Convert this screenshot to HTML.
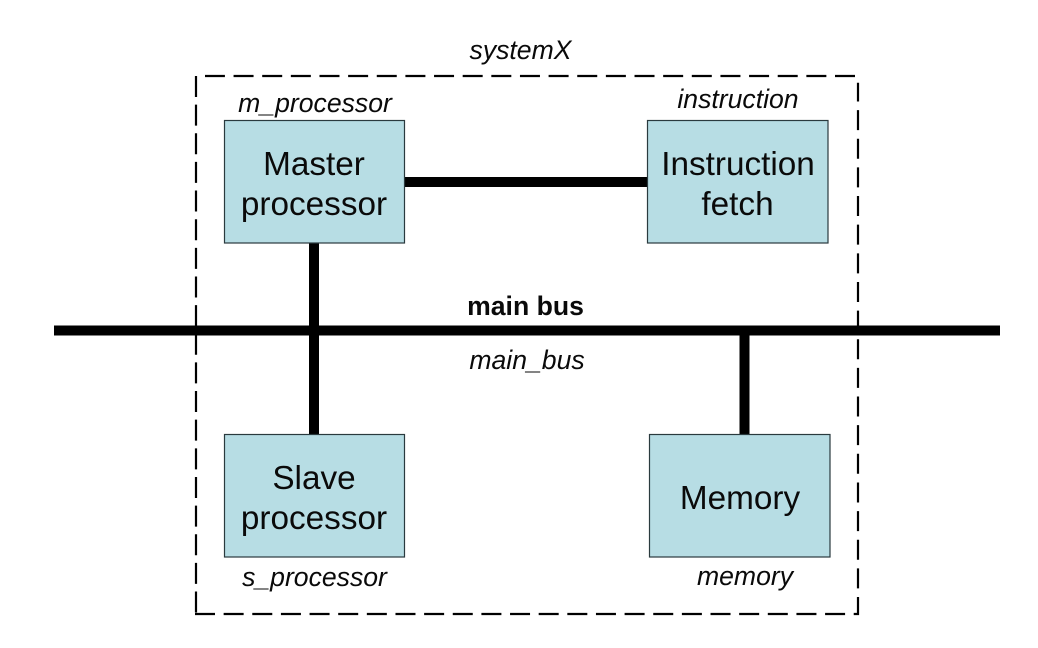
<!DOCTYPE html>
<html>
<head>
<meta charset="utf-8">
<style>
html,body{margin:0;padding:0;background:#fff;}
svg{display:block;}
text{font-family:"Liberation Sans",Arial,sans-serif;fill:#0a0a0a;}
.i{font-size:26.6px;font-style:italic;text-anchor:middle;}
.b{font-size:33.3px;text-anchor:middle;}
.box{fill:#b7dde4;stroke:#2a3a3e;stroke-width:1.2;}
.d{stroke:#000;stroke-width:2.2;fill:none;}
</style>
</head>
<body>
<svg width="1038" height="648" viewBox="0 0 1038 648" xmlns="http://www.w3.org/2000/svg">
<rect width="1038" height="648" fill="#fff"/>
<line class="d" x1="196" y1="76" x2="196" y2="614" stroke-dasharray="21 7.64"/>
<line class="d" x1="195" y1="614" x2="859" y2="614" stroke-dasharray="20 8.64"/>
<line class="d" x1="858" y1="615" x2="858" y2="82.700" stroke-dasharray="18 8.64 20 8.64 20 8.64 20 8.64 20 8.64 20 8.64 20 8.64 20 8.64 20 8.64 20 8.64 20 8.64 20 8.64 20 8.64 20 8.64 20 8.64 20 8.64 20 8.64 20 8.64 20 8.64"/>
<line class="d" x1="855" y1="76" x2="205" y2="76" stroke-dasharray="20 8.64"/>
<rect x="404" y="177" width="244" height="10" fill="#000"/>
<rect x="309" y="243" width="10" height="192" fill="#000"/>
<rect x="739.500" y="330" width="10" height="105" fill="#000"/>
<rect x="54" y="325.500" width="946" height="10" fill="#000"/>
<rect class="box" x="224.500" y="120.500" width="180" height="122.500"/>
<rect class="box" x="647.500" y="120.500" width="180.500" height="122.500"/>
<rect class="box" x="224.500" y="434.500" width="180" height="122.500"/>
<rect class="box" x="649.500" y="434.500" width="180.500" height="122.500"/>
<text class="i" x="520.500" y="59">systemX</text>
<text class="i" x="315" y="112">m_processor</text>
<text class="i" x="738" y="108">instruction</text>
<text class="b" x="314" y="175">Master</text>
<text class="b" x="314" y="215">processor</text>
<text class="b" x="738" y="175">Instruction</text>
<text class="b" x="737.500" y="215">fetch</text>
<text x="525.500" y="315" font-size="26.600" font-weight="bold" text-anchor="middle">main bus</text>
<text class="i" x="527" y="369">main_bus</text>
<text class="b" x="314" y="489">Slave</text>
<text class="b" x="314" y="529">processor</text>
<text class="b" x="740" y="509">Memory</text>
<text class="i" x="314.500" y="586">s_processor</text>
<text class="i" x="745" y="585">memory</text>
</svg>
</body>
</html>
